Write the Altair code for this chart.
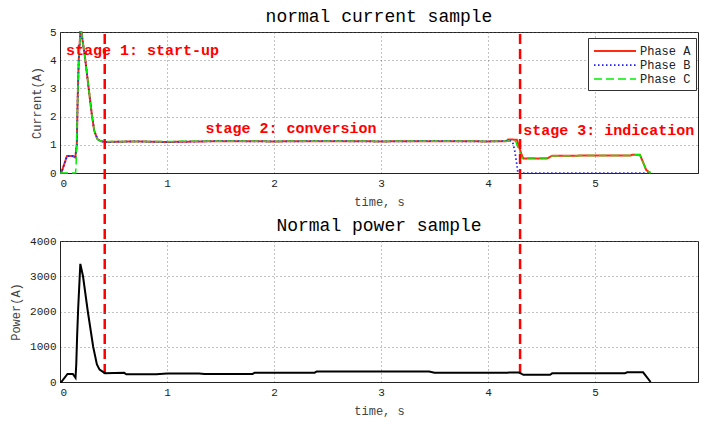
import altair as alt
import pandas as pd

# ---- current samples (A) ----
t_a = [0.0, 0.012, 0.065, 0.12, 0.143, 0.157, 0.165, 0.175, 0.19, 0.2, 0.215, 0.237, 0.268,
       0.30, 0.32, 0.35, 0.38, 0.42, 0.7, 1.0, 1.5, 2.0, 2.5, 3.0, 3.5, 4.0, 4.17, 4.19,
       4.27, 4.31, 4.33, 4.55, 4.6, 5.0, 5.33, 5.35, 5.42, 5.48, 5.52]
i_a = [0, 0, 0.6, 0.6, 0.55, 1.0, 2.6, 4.0, 5.0, 5.0, 4.6, 4.0, 3.0,
       2.0, 1.5, 1.2, 1.13, 1.1, 1.12, 1.1, 1.13, 1.12, 1.13, 1.12, 1.13, 1.12, 1.13, 1.19,
       1.18, 0.7, 0.51, 0.51, 0.61, 0.62, 0.62, 0.65, 0.65, 0.1, 0.0]

# ---- current samples (B) ----
t_b = [0.0, 0.012, 0.065, 0.12, 0.143, 0.157, 0.165, 0.175, 0.19, 0.2, 0.215, 0.237, 0.268,
       0.30, 0.32, 0.35, 0.38, 0.42, 0.7, 1.0, 1.5, 2.0, 2.5, 3.0, 3.5, 4.0, 4.17, 4.2,
       4.23, 4.25, 4.27, 4.28, 5.0, 5.5]
i_b = [0, 0, 0.6, 0.6, 0.55, 1.0, 2.6, 4.0, 5.0, 5.0, 4.6, 4.0, 3.0,
       2.0, 1.5, 1.2, 1.13, 1.1, 1.12, 1.1, 1.13, 1.12, 1.13, 1.12, 1.13, 1.12, 1.13, 1.15,
       1.1, 0.8, 0.3, 0.0, 0.0, 0.0]

# ---- current samples (C) ----
t_c = [0.0, 0.145, 0.15, 0.165, 0.175, 0.19, 0.2, 0.215, 0.237, 0.268,
       0.30, 0.32, 0.35, 0.38, 0.42, 0.7, 1.0, 1.5, 2.0, 2.5, 3.0, 3.5, 4.0, 4.19, 4.26,
       4.29, 4.32, 4.55, 4.6, 5.0, 5.33, 5.35, 5.42, 5.48, 5.52]
i_c = [0, 0, 0.2, 2.6, 4.0, 5.0, 5.0, 4.6, 4.0, 3.0,
       2.0, 1.5, 1.2, 1.13, 1.12, 1.12, 1.12, 1.13, 1.12, 1.13, 1.12, 1.13, 1.12, 1.13, 1.12,
       0.8, 0.53, 0.53, 0.61, 0.62, 0.62, 0.65, 0.65, 0.1, 0.0]

# ---- power sample ----
t_p = [0.0, 0.012, 0.07, 0.12, 0.145, 0.152, 0.16, 0.17, 0.19, 0.215, 0.26, 0.31, 0.345,
       0.37, 0.42, 0.6, 0.62, 0.9, 1.0, 1.3, 1.35, 1.8, 1.82, 2.38, 2.4, 3.45, 3.5, 4.18,
       4.2, 4.29, 4.33, 4.58, 4.6, 5.28, 5.3, 5.45, 5.52]
p_w = [0, 0, 230, 230, 120, 500, 1300, 2100, 3350, 3000, 2000, 1000, 500,
       350, 250, 260, 220, 220, 240, 240, 230, 230, 265, 265, 300, 300, 260, 260,
       270, 270, 205, 205, 245, 245, 275, 275, 0]

phases = ["Phase A", "Phase B", "Phase C"]
phase_colors = ["#ff2a10", "#1a1aff", "#00ee00"]

stage_text = ["stage 1: start-up", "stage 2: conversion", "stage 3: indication"]
stage_t = [0.056, 1.36, 4.33]
stage_i = [4.36, 1.6, 1.52]

stage_bounds = [0.418, 4.30]

cur = pd.concat([
    pd.DataFrame({"t": t_a, "i": i_a, "phase": phases[0]}),
    pd.DataFrame({"t": t_b, "i": i_b, "phase": phases[1]}),
    pd.DataFrame({"t": t_c, "i": i_c, "phase": phases[2]}),
])
pw = pd.DataFrame({"t": t_p, "p": p_w})
stages = pd.DataFrame({"label": stage_text, "t": stage_t, "i": stage_i})
bounds = pd.DataFrame({"t": stage_bounds})

W, H, GAP = 638, 141, 68
MONO = "Liberation Mono"

x_scale = alt.Scale(domain=[0, 5.963], nice=False)
x_ax = alt.Axis(values=[0, 1, 2, 3, 4, 5], title="time, s", format="d", titlePadding=8)
i_scale = alt.Scale(domain=[0, 5], nice=False)
i_ax = alt.Axis(values=[0, 1, 2, 3, 4, 5], title="Current(A)", titlePadding=6, format="d")

top_title = alt.TitleParams("normal current sample", font=MONO, fontSize=18,
                            fontWeight="normal", color="black", offset=0)
bot_title = alt.TitleParams("Normal power sample", font=MONO, fontSize=18,
                            fontWeight="normal", color="black", offset=0)

phase_legend = alt.Legend(title=None, orient="none", legendX=528, legendY=6,
                          strokeColor="#333", fillColor="white", padding=5,
                          labelFont=MONO, labelFontSize=12, labelColor="#222",
                          symbolType="M-1,0H5", symbolSize=196,
                          symbolStrokeWidth=2, rowPadding=0, labelOffset=31)

lines = alt.Chart(cur).mark_line(interpolate="linear").encode(
    x=alt.X("t:Q", scale=x_scale, axis=x_ax),
    y=alt.Y("i:Q", scale=i_scale, axis=i_ax),
    color=alt.Color("phase:N", scale=alt.Scale(domain=phases, range=phase_colors),
                    legend=phase_legend),
    strokeDash=alt.StrokeDash("phase:N", scale=alt.Scale(domain=phases,
                              range=[[1, 0], [1.5, 2.5], [8, 4]]), legend=phase_legend),
    strokeWidth=alt.StrokeWidth("phase:N", scale=alt.Scale(domain=phases,
                                range=[2, 1.5, 2.5]), legend=phase_legend),
    order=alt.Order("t:Q"),
)

labels = alt.Chart(stages).mark_text(
    align="left", baseline="middle", color="red", font=MONO, fontSize=15, fontWeight="bold"
).encode(
    x=alt.X("t:Q", scale=x_scale, axis=x_ax),
    y=alt.Y("i:Q", scale=i_scale, axis=i_ax),
    text="label:N",
)

rules = alt.Chart(bounds).mark_rule(
    color="red", strokeDash=[10, 5], strokeWidth=2.5
).encode(
    x=alt.X("t:Q", scale=x_scale, axis=x_ax),
    y=alt.value(2), y2=alt.value(H + GAP + H - 4),
)

top = alt.layer(lines, labels, rules).properties(width=W, height=H, title=top_title)

power = alt.Chart(pw).mark_line(color="black", strokeWidth=2).encode(
    x=alt.X("t:Q", scale=x_scale, axis=x_ax),
    y=alt.Y("p:Q", scale=alt.Scale(domain=[0, 4000], nice=False),
            axis=alt.Axis(values=[0, 1000, 2000, 3000, 4000], title="Power(A)",
                          titlePadding=7, format="d")),
    order=alt.Order("t:Q"),
).properties(width=W, height=H, title=bot_title)

chart = alt.vconcat(top, power, spacing=GAP, bounds="flush").configure(
    padding={"left": 9, "top": 7, "right": 1, "bottom": 5},
    background="white",
).configure_view(
    stroke="#222", strokeWidth=1
).configure_axis(
    grid=True, gridColor="#666", gridDash=[1, 3], gridOpacity=0.8,
    domainColor="#222", ticks=False, labelPadding=4,
    labelFont=MONO, labelFontSize=11, labelColor="#222",
    titleFont=MONO, titleFontSize=12, titleFontWeight="normal", titleColor="#444",
)

chart.save("out.html", embed_options={"renderer": "svg", "actions": False})
